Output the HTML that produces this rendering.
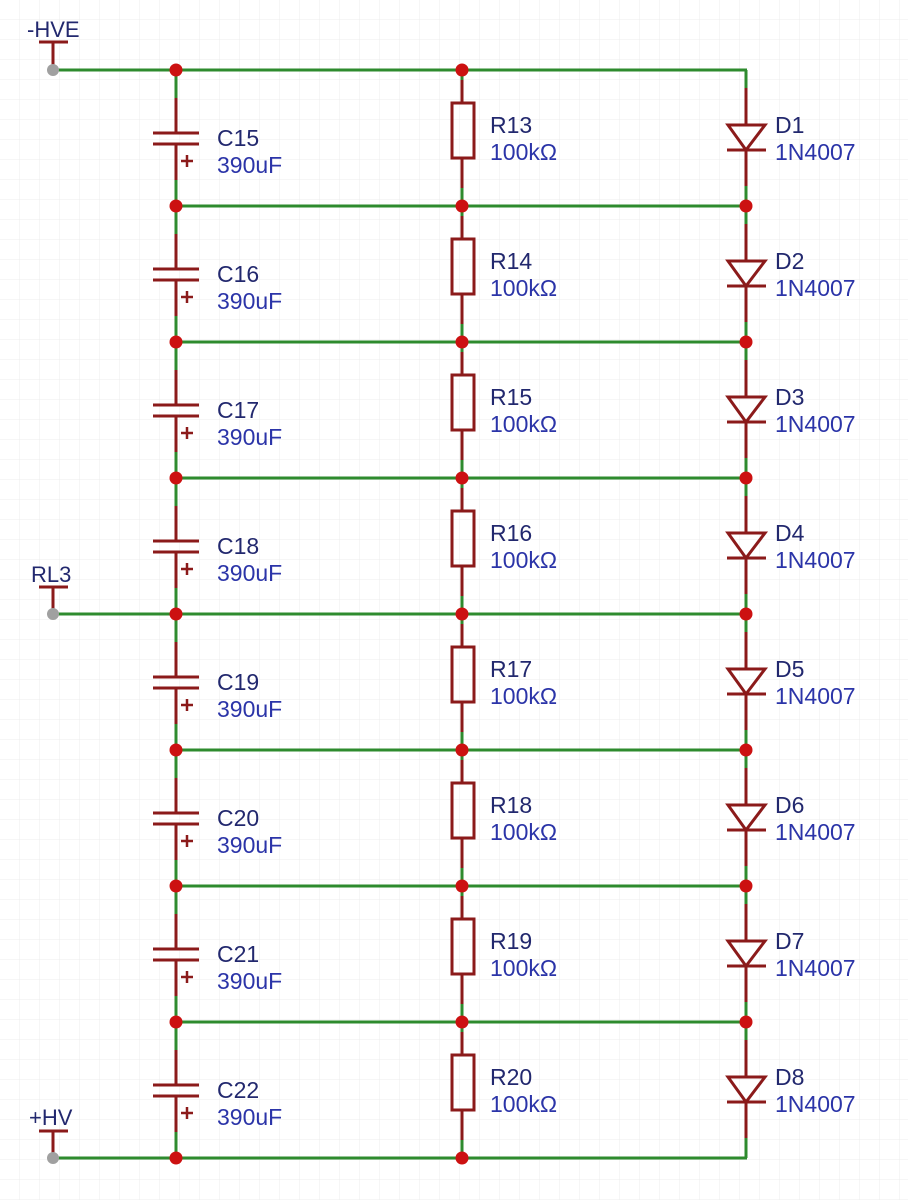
<!DOCTYPE html>
<html><head><meta charset="utf-8"><style>
html,body{margin:0;padding:0;background:#fff;}
svg{display:block;}
text{font-family:"Liberation Sans",sans-serif;font-size:23px;}
.n{fill:#22286e;}
.v{fill:#2b34a8;}
</style></head><body>
<svg width="908" height="1200" viewBox="0 0 908 1200" xmlns="http://www.w3.org/2000/svg">
<defs>
<pattern id="grid" width="20" height="20" patternUnits="userSpaceOnUse">
<path d="M20 0V20H0" fill="none" stroke="#ececec" stroke-width="1"/>
</pattern>
<g id="cell">
<line x1="176" y1="0" x2="176" y2="28" stroke="#2e8b2e" stroke-width="3"/>
<line x1="176" y1="28" x2="176" y2="63" stroke="#8b1a1a" stroke-width="3"/>
<line x1="153" y1="63" x2="199" y2="63" stroke="#8b1a1a" stroke-width="3"/>
<line x1="153" y1="74" x2="199" y2="74" stroke="#8b1a1a" stroke-width="3"/>
<line x1="176" y1="74" x2="176" y2="110" stroke="#8b1a1a" stroke-width="3"/>
<line x1="176" y1="110" x2="176" y2="136" stroke="#2e8b2e" stroke-width="3"/>
<line x1="181" y1="91" x2="193" y2="91" stroke="#8b1a1a" stroke-width="2.5"/>
<line x1="187" y1="85" x2="187" y2="97" stroke="#8b1a1a" stroke-width="2.5"/>
<line x1="462" y1="0" x2="462" y2="10" stroke="#2e8b2e" stroke-width="3"/>
<line x1="462" y1="10" x2="462" y2="33" stroke="#8b1a1a" stroke-width="3"/>
<rect x="452" y="33" width="22" height="55" fill="none" stroke="#8b1a1a" stroke-width="3"/>
<line x1="462" y1="88" x2="462" y2="118" stroke="#8b1a1a" stroke-width="3"/>
<line x1="462" y1="118" x2="462" y2="136" stroke="#2e8b2e" stroke-width="3"/>
<line x1="746" y1="0" x2="746" y2="18" stroke="#2e8b2e" stroke-width="3"/>
<line x1="746" y1="18" x2="746" y2="55" stroke="#8b1a1a" stroke-width="3"/>
<polygon points="728,55 765,55 746,80" fill="none" stroke="#8b1a1a" stroke-width="3"/>
<line x1="727" y1="80" x2="766" y2="80" stroke="#8b1a1a" stroke-width="3"/>
<line x1="746" y1="80" x2="746" y2="116" stroke="#8b1a1a" stroke-width="3"/>
<line x1="746" y1="116" x2="746" y2="136" stroke="#2e8b2e" stroke-width="3"/>
</g>
</defs>
<rect width="908" height="1200" fill="url(#grid)"/>

<use href="#cell" transform="translate(0,70)"/>
<use href="#cell" transform="translate(0,206)"/>
<use href="#cell" transform="translate(0,342)"/>
<use href="#cell" transform="translate(0,478)"/>
<use href="#cell" transform="translate(0,614)"/>
<use href="#cell" transform="translate(0,750)"/>
<use href="#cell" transform="translate(0,886)"/>
<use href="#cell" transform="translate(0,1022)"/>

<g stroke="#2e8b2e" stroke-width="3">
<line x1="53" y1="70" x2="747" y2="70"/>
<line x1="176" y1="206" x2="746" y2="206"/>
<line x1="176" y1="342" x2="746" y2="342"/>
<line x1="176" y1="478" x2="746" y2="478"/>
<line x1="53" y1="614" x2="746" y2="614"/>
<line x1="176" y1="750" x2="746" y2="750"/>
<line x1="176" y1="886" x2="746" y2="886"/>
<line x1="176" y1="1022" x2="746" y2="1022"/>
<line x1="53" y1="1158" x2="747" y2="1158"/>
</g>

<g stroke="#8b1a1a" stroke-width="3">
<line x1="53" y1="42" x2="53" y2="68"/><line x1="39" y1="42" x2="68" y2="42"/>
<line x1="53" y1="587" x2="53" y2="612"/><line x1="39" y1="587" x2="68" y2="587"/>
<line x1="53" y1="1131" x2="53" y2="1156"/><line x1="39" y1="1131" x2="68" y2="1131"/>
</g>
<g fill="#a0a0a0">
<circle cx="53" cy="70" r="6"/><circle cx="53" cy="614" r="6"/><circle cx="53" cy="1158" r="6"/>
</g>
<text x="27" y="37" class="n" style="font-size:22px">-HVE</text>
<text x="31" y="582" class="n" style="font-size:22px">RL3</text>
<text x="29" y="1125" class="n" style="font-size:22px">+HV</text>

<g fill="#cc1111">
<circle cx="176" cy="70" r="6.5"/><circle cx="462" cy="70" r="6.5"/>
<circle cx="176" cy="206" r="6.5"/><circle cx="462" cy="206" r="6.5"/><circle cx="746" cy="206" r="6.5"/>
<circle cx="176" cy="342" r="6.5"/><circle cx="462" cy="342" r="6.5"/><circle cx="746" cy="342" r="6.5"/>
<circle cx="176" cy="478" r="6.5"/><circle cx="462" cy="478" r="6.5"/><circle cx="746" cy="478" r="6.5"/>
<circle cx="176" cy="614" r="6.5"/><circle cx="462" cy="614" r="6.5"/><circle cx="746" cy="614" r="6.5"/>
<circle cx="176" cy="750" r="6.5"/><circle cx="462" cy="750" r="6.5"/><circle cx="746" cy="750" r="6.5"/>
<circle cx="176" cy="886" r="6.5"/><circle cx="462" cy="886" r="6.5"/><circle cx="746" cy="886" r="6.5"/>
<circle cx="176" cy="1022" r="6.5"/><circle cx="462" cy="1022" r="6.5"/><circle cx="746" cy="1022" r="6.5"/>
<circle cx="176" cy="1158" r="6.5"/><circle cx="462" cy="1158" r="6.5"/>
</g>

<g>
<text x="217" y="146" class="n">C15</text><text x="217" y="173" class="v">390uF</text>
<text x="490" y="133" class="n">R13</text><text x="490" y="160" class="v">100kΩ</text>
<text x="775" y="133" class="n">D1</text><text x="775" y="160" class="v">1N4007</text>

<text x="217" y="282" class="n">C16</text><text x="217" y="309" class="v">390uF</text>
<text x="490" y="269" class="n">R14</text><text x="490" y="296" class="v">100kΩ</text>
<text x="775" y="269" class="n">D2</text><text x="775" y="296" class="v">1N4007</text>

<text x="217" y="418" class="n">C17</text><text x="217" y="445" class="v">390uF</text>
<text x="490" y="405" class="n">R15</text><text x="490" y="432" class="v">100kΩ</text>
<text x="775" y="405" class="n">D3</text><text x="775" y="432" class="v">1N4007</text>

<text x="217" y="554" class="n">C18</text><text x="217" y="581" class="v">390uF</text>
<text x="490" y="541" class="n">R16</text><text x="490" y="568" class="v">100kΩ</text>
<text x="775" y="541" class="n">D4</text><text x="775" y="568" class="v">1N4007</text>

<text x="217" y="690" class="n">C19</text><text x="217" y="717" class="v">390uF</text>
<text x="490" y="677" class="n">R17</text><text x="490" y="704" class="v">100kΩ</text>
<text x="775" y="677" class="n">D5</text><text x="775" y="704" class="v">1N4007</text>

<text x="217" y="826" class="n">C20</text><text x="217" y="853" class="v">390uF</text>
<text x="490" y="813" class="n">R18</text><text x="490" y="840" class="v">100kΩ</text>
<text x="775" y="813" class="n">D6</text><text x="775" y="840" class="v">1N4007</text>

<text x="217" y="962" class="n">C21</text><text x="217" y="989" class="v">390uF</text>
<text x="490" y="949" class="n">R19</text><text x="490" y="976" class="v">100kΩ</text>
<text x="775" y="949" class="n">D7</text><text x="775" y="976" class="v">1N4007</text>

<text x="217" y="1098" class="n">C22</text><text x="217" y="1125" class="v">390uF</text>
<text x="490" y="1085" class="n">R20</text><text x="490" y="1112" class="v">100kΩ</text>
<text x="775" y="1085" class="n">D8</text><text x="775" y="1112" class="v">1N4007</text>
</g>
</svg>
</body></html>
